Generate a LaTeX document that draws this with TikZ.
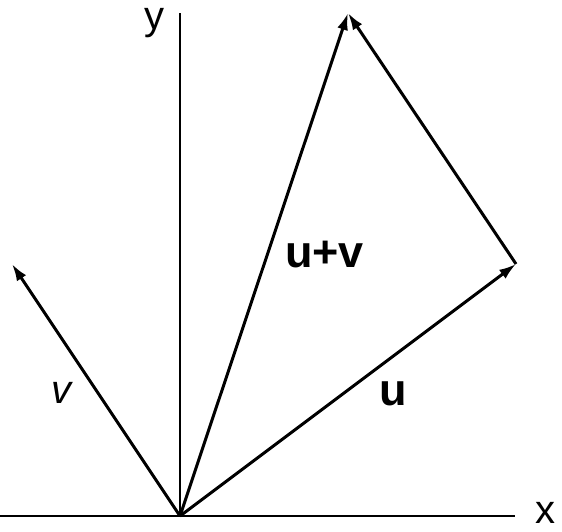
\documentclass[tikz,border=0pt]{standalone}
\usepackage{fontspec}
\setmainfont{Liberation Sans}
\usetikzlibrary{arrows.meta,positioning}
\tikzset{
  axis/.style={line width=1.5pt},
  vec/.style={line width=3pt,-{Latex[length=17pt,width=11pt]}},
  lbl/.style={font=\fontsize{40}{46}\selectfont,inner sep=0pt},
  boldlbl/.style={font=\fontsize{45}{52}\selectfont\bfseries,inner sep=0pt}
}

\begin{document}
\begin{tikzpicture}[x=1pt,y=-1pt]
\useasboundingbox (0,0) rectangle (562,532);
\coordinate (O) at (180,516);
\coordinate (U) at (516,264);
\coordinate (V) at (12,264);
\coordinate (W) at (348,13);
\coordinate (xend) at (515,516);
\coordinate (yend) at (180,13);
% axes
\draw[axis] (0,516) -- (xend);
\draw[axis] (O) -- (yend);
\node[lbl] (xlab) at (545.5,513) {x};
\node[lbl] (ylab) at (154,23.5) {y};
% vectors
\draw[vec] (O) -- (U);
\draw[vec] (O) -- (V);
\draw[vec] (O) -- (W);
\draw[vec] (U) -- (W);
\node[boldlbl] (uvlab) at (324.5,255) {u+v};
\node[boldlbl] (ulab) at (393.5,393.5) {u};
\node[lbl,font=\fontsize{40}{46}\selectfont\itshape] (vlab) at (61.5,392.5) {v};
\end{tikzpicture}
\end{document}
